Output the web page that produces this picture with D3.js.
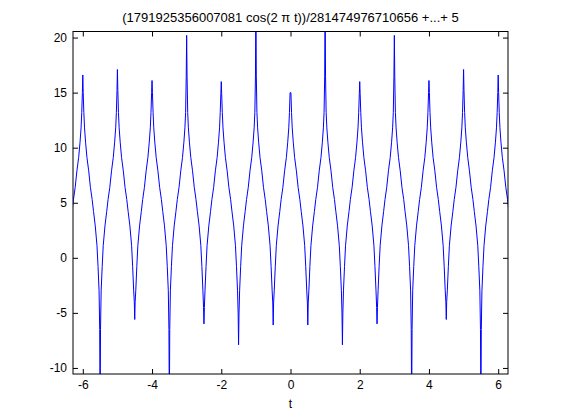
<!DOCTYPE html>
<html>
<head>
  <meta charset="utf-8">
  <script src="https://d3js.org/d3.v7.min.js"></script>
  <style>
    body { margin: 0; background: #fff; }
    text { font-family: "Liberation Sans", Arial, sans-serif; }
    .axis text { font-size: 12px; fill: #000; }
    .axis line { stroke: #000; }
    .axis .domain { stroke: none; }
  </style>
</head>
<body>
<svg id="p" width="561" height="420"></svg>
<script>
  // values
  const xTicks = [-6, -4, -2, 0, 2, 4, 6];
  const yTicks = [-10, -5, 0, 5, 10, 15, 20];

  // peaks at whole t, with the sample just beside each peak
  const peakT = [-6, -5, -4, -3, -2, -1, 0, 1, 2, 3, 4, 5, 6];
  const peakY = [16.6, 17.1, 16.1, 20.2, 16.0, 24, 15.0, 24, 16.0, 20.2, 16.1, 17.1, 16.6];
  const peakShoulder = [15.0, 15.2, 15.0, 16.5, 14.9, 16.5, 15.0, 16.5, 14.9, 16.5, 15.0, 15.2, 15.0];

  // dips at half t
  const valleyT = [-5.5, -4.5, -3.5, -2.5, -1.5, -0.5, 0.5, 1.5, 2.5, 3.5, 4.5, 5.5];
  const valleyY = [-14, -5.6, -14, -6.0, -7.9, -6.1, -6.1, -7.9, -6.0, -14, -5.6, -14];
  const valleyShoulder = [-6.5, -4.0, -6.5, -4.5, -5.1, -4.1, -4.1, -5.1, -4.5, -6.5, -4.0, -6.5];

  // shape of the flank between a peak and the next dip (distance from peak, value)
  const flankDt = [0.03, 0.05, 0.08, 0.12, 0.17, 0.22, 0.27, 0.31, 0.36, 0.41, 0.44, 0.47];
  const flankY = [13.2, 11.8, 10.5, 9.1, 7.9, 6.4, 5.3, 4.2, 2.9, 1.1, -0.8, -3.0];
  const shoulderDt = 0.012;

  const pts = [];
  peakT.forEach((t, i) => {
    pts.push({t: t, y: peakY[i]});
    pts.push({t: t - shoulderDt, y: peakShoulder[i]});
    pts.push({t: t + shoulderDt, y: peakShoulder[i]});
    flankDt.forEach((dt, j) => {
      pts.push({t: t - dt, y: flankY[j]});
      pts.push({t: t + dt, y: flankY[j]});
    });
  });
  valleyT.forEach((t, i) => {
    pts.push({t: t, y: valleyY[i]});
    pts.push({t: t - shoulderDt, y: valleyShoulder[i]});
    pts.push({t: t + shoulderDt, y: valleyShoulder[i]});
  });
  pts.sort((a, b) => a.t - b.t);

  const svg = d3.select("svg#p");
  const margin = {top: 31.5, left: 73, right: 53, bottom: 46};
  const width = 561, height = 420;
  const chartWidth = width - margin.left - margin.right;
  const chartHeight = height - margin.top - margin.bottom;

  const x = d3.scaleLinear().domain([-2 * Math.PI, 2 * Math.PI]).range([0, chartWidth]);
  const y = d3.scaleLinear().domain([-10.55, 20.55]).range([chartHeight, 0]);
  const fmt = d => String(d);

  const g = svg.append("g").attr("transform", "translate(" + margin.left + "," + margin.top + ")");

  g.append("clipPath").attr("id", "clip")
    .append("rect").attr("width", chartWidth).attr("height", chartHeight);

  g.append("path")
    .datum(pts)
    .attr("clip-path", "url(#clip)")
    .attr("fill", "none")
    .attr("stroke", "#0000ff")
    .attr("stroke-width", 1)
    .attr("d", d3.line().x(d => x(d.t)).y(d => y(d.y)));

  g.append("g").attr("class", "axis")
    .attr("transform", "translate(0," + chartHeight + ")")
    .call(d3.axisBottom(x).tickValues(xTicks).tickSize(-5).tickPadding(6.5).tickFormat(fmt));
  g.append("g").attr("class", "axis")
    .call(d3.axisTop(x).tickValues(xTicks).tickSize(-5).tickFormat(""));
  g.append("g").attr("class", "axis")
    .call(d3.axisLeft(y).tickValues(yTicks).tickSize(-5).tickPadding(6).tickFormat(fmt));
  g.append("g").attr("class", "axis")
    .attr("transform", "translate(" + chartWidth + ",0)")
    .call(d3.axisRight(y).tickValues(yTicks).tickSize(-5).tickFormat(""));

  g.append("rect")
    .attr("width", chartWidth).attr("height", chartHeight)
    .attr("fill", "none").attr("stroke", "#000");

  svg.append("text")
    .attr("x", margin.left + chartWidth / 2).attr("y", 21.5)
    .attr("text-anchor", "middle").attr("font-size", 13)
    .text("(1791925356007081 cos(2 \u03c0 t))/281474976710656 +...+ 5");

  svg.append("text")
    .attr("x", margin.left + chartWidth / 2).attr("y", 408)
    .attr("text-anchor", "middle").attr("font-size", 12)
    .text("t");
</script>
</body>
</html>
